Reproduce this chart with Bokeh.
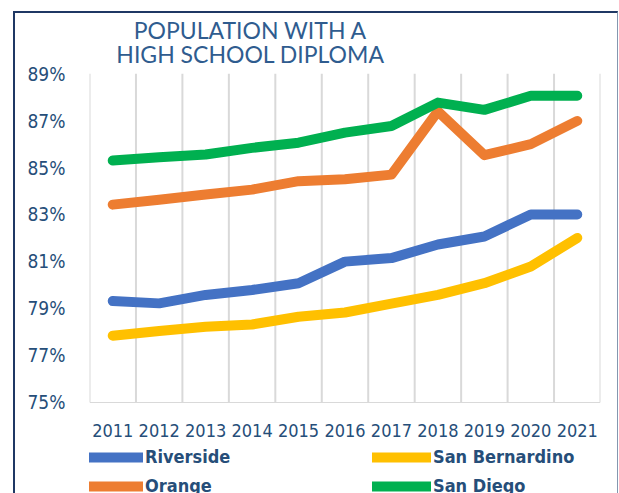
from bokeh.plotting import figure
from bokeh.models import Range1d, FixedTicker, Legend, LegendItem, Label
from bokeh.embed import file_html
from bokeh.resources import INLINE

years = ["2011", "2012", "2013", "2014", "2015", "2016", "2017", "2018", "2019", "2020", "2021"]
riverside = [79.31, 79.21, 79.57, 79.78, 80.07, 80.99, 81.14, 81.72, 82.06, 83.0, 83.0]
san_bernardino = [77.83, 78.03, 78.21, 78.31, 78.64, 78.82, 79.2, 79.57, 80.07, 80.78, 82.0]
orange = [83.42, 83.63, 83.85, 84.06, 84.42, 84.5, 84.7, 87.4, 85.53, 86.0, 86.99]
san_diego = [85.3, 85.44, 85.56, 85.84, 86.06, 86.49, 86.77, 87.77, 87.46, 88.06, 88.06]
y_ticks = [75, 77, 79, 81, 83, 85, 87, 89]
title_lines = ["POPULATION WITH A", "HIGH SCHOOL DIPLOMA"]

TXT = "#264E79"
NARROW = "'DejaVu Sans Condensed', 'Liberation Sans', sans-serif"

Y_MIN, Y_MAX = y_ticks[0], y_ticks[-1]
# value span is 327px tall; the frame also holds 60px of title above and 93px of axis+legend below
px_per_unit = 327 / (Y_MAX - Y_MIN)
pad_bottom = 93 / px_per_unit
pad_top = 60 / px_per_unit

n = len(years)
xs = [i + 0.5 for i in range(n)]
bounds = list(range(n + 1))

p = figure(width=605, height=482, x_range=Range1d(0, n),
           y_range=Range1d(Y_MIN - pad_bottom, Y_MAX + pad_top),
           output_backend="svg", toolbar_location=None,
           min_border_left=74, min_border_top=0, min_border_right=20, min_border_bottom=0)
p.margin = (11, 0, 0, 13)
p.styles = {"border-left": "2px solid #1F3864", "border-top": "2px solid #1F3864",
            "border-right": "1px solid #8497B0"}
p.outline_line_color = None
p.background_fill_color = "white"
p.border_fill_color = "white"
p.xgrid.visible = False
p.ygrid.visible = False

# vertical category separators (gridlines) limited to the value span
p.segment(x0=bounds, y0=[Y_MIN] * len(bounds), x1=bounds, y1=[Y_MAX] * len(bounds),
          line_color="#D9D9D9", line_width=2)

# x axis sits at the bottom of the value span
p.xaxis.fixed_location = Y_MIN
p.xaxis.ticker = FixedTicker(ticks=xs)
p.xaxis.major_label_overrides = {x: y for x, y in zip(xs, years)}
p.xaxis.axis_line_color = "#D9D9D9"
p.xaxis.major_tick_line_color = None
p.xaxis.minor_tick_line_color = None
p.xaxis.major_label_text_font = NARROW
p.xaxis.major_label_text_font_size = "18px"
p.xaxis.major_label_text_color = TXT
p.xaxis.major_label_standoff = 16

# y axis
p.yaxis.ticker = FixedTicker(ticks=y_ticks)
p.yaxis.major_label_overrides = {t: f"{t}%" for t in y_ticks}
p.yaxis.axis_line_color = None
p.yaxis.major_tick_line_color = None
p.yaxis.minor_tick_line_color = None
p.yaxis.major_label_text_font = NARROW
p.yaxis.major_label_text_font_size = "19px"
p.yaxis.major_label_text_color = TXT
p.yaxis.major_label_standoff = 18

series = [("Riverside", riverside, "#4472C4"),
          ("San Bernardino", san_bernardino, "#FFC000"),
          ("Orange", orange, "#ED7D31"),
          ("San Diego", san_diego, "#00B050")]
rends = {}
for name, vals, col in series:
    rends[name] = p.line(xs, vals, line_color=col, line_width=10,
                         line_cap="round", line_join="round")

for names, lx in [(("Riverside", "Orange"), -5), (("San Bernardino", "San Diego"), 283)]:
    lg = Legend(items=[LegendItem(label=nm, renderers=[rends[nm]]) for nm in names],
                location=(lx, -1), orientation="vertical",
                glyph_width=59, glyph_height=18, label_height=18,
                spacing=8, label_standoff=2, padding=0, margin=0,
                border_line_color=None, background_fill_alpha=0,
                label_text_font=NARROW, label_text_font_size="18px",
                label_text_font_style="bold", label_text_color=TXT)
    p.add_layout(lg)

# two-line title, centred left of the plot centre as in the original
for txt, yb in zip(title_lines, [466, 442]):
    p.add_layout(Label(x=161, y=yb, x_units="screen", y_units="screen", text=txt,
                       text_align="center", text_baseline="alphabetic",
                       text_font="Lato", text_font_size="23px", text_color="#2F5C8F"))

open("out.html", "w").write(file_html(p, INLINE))
